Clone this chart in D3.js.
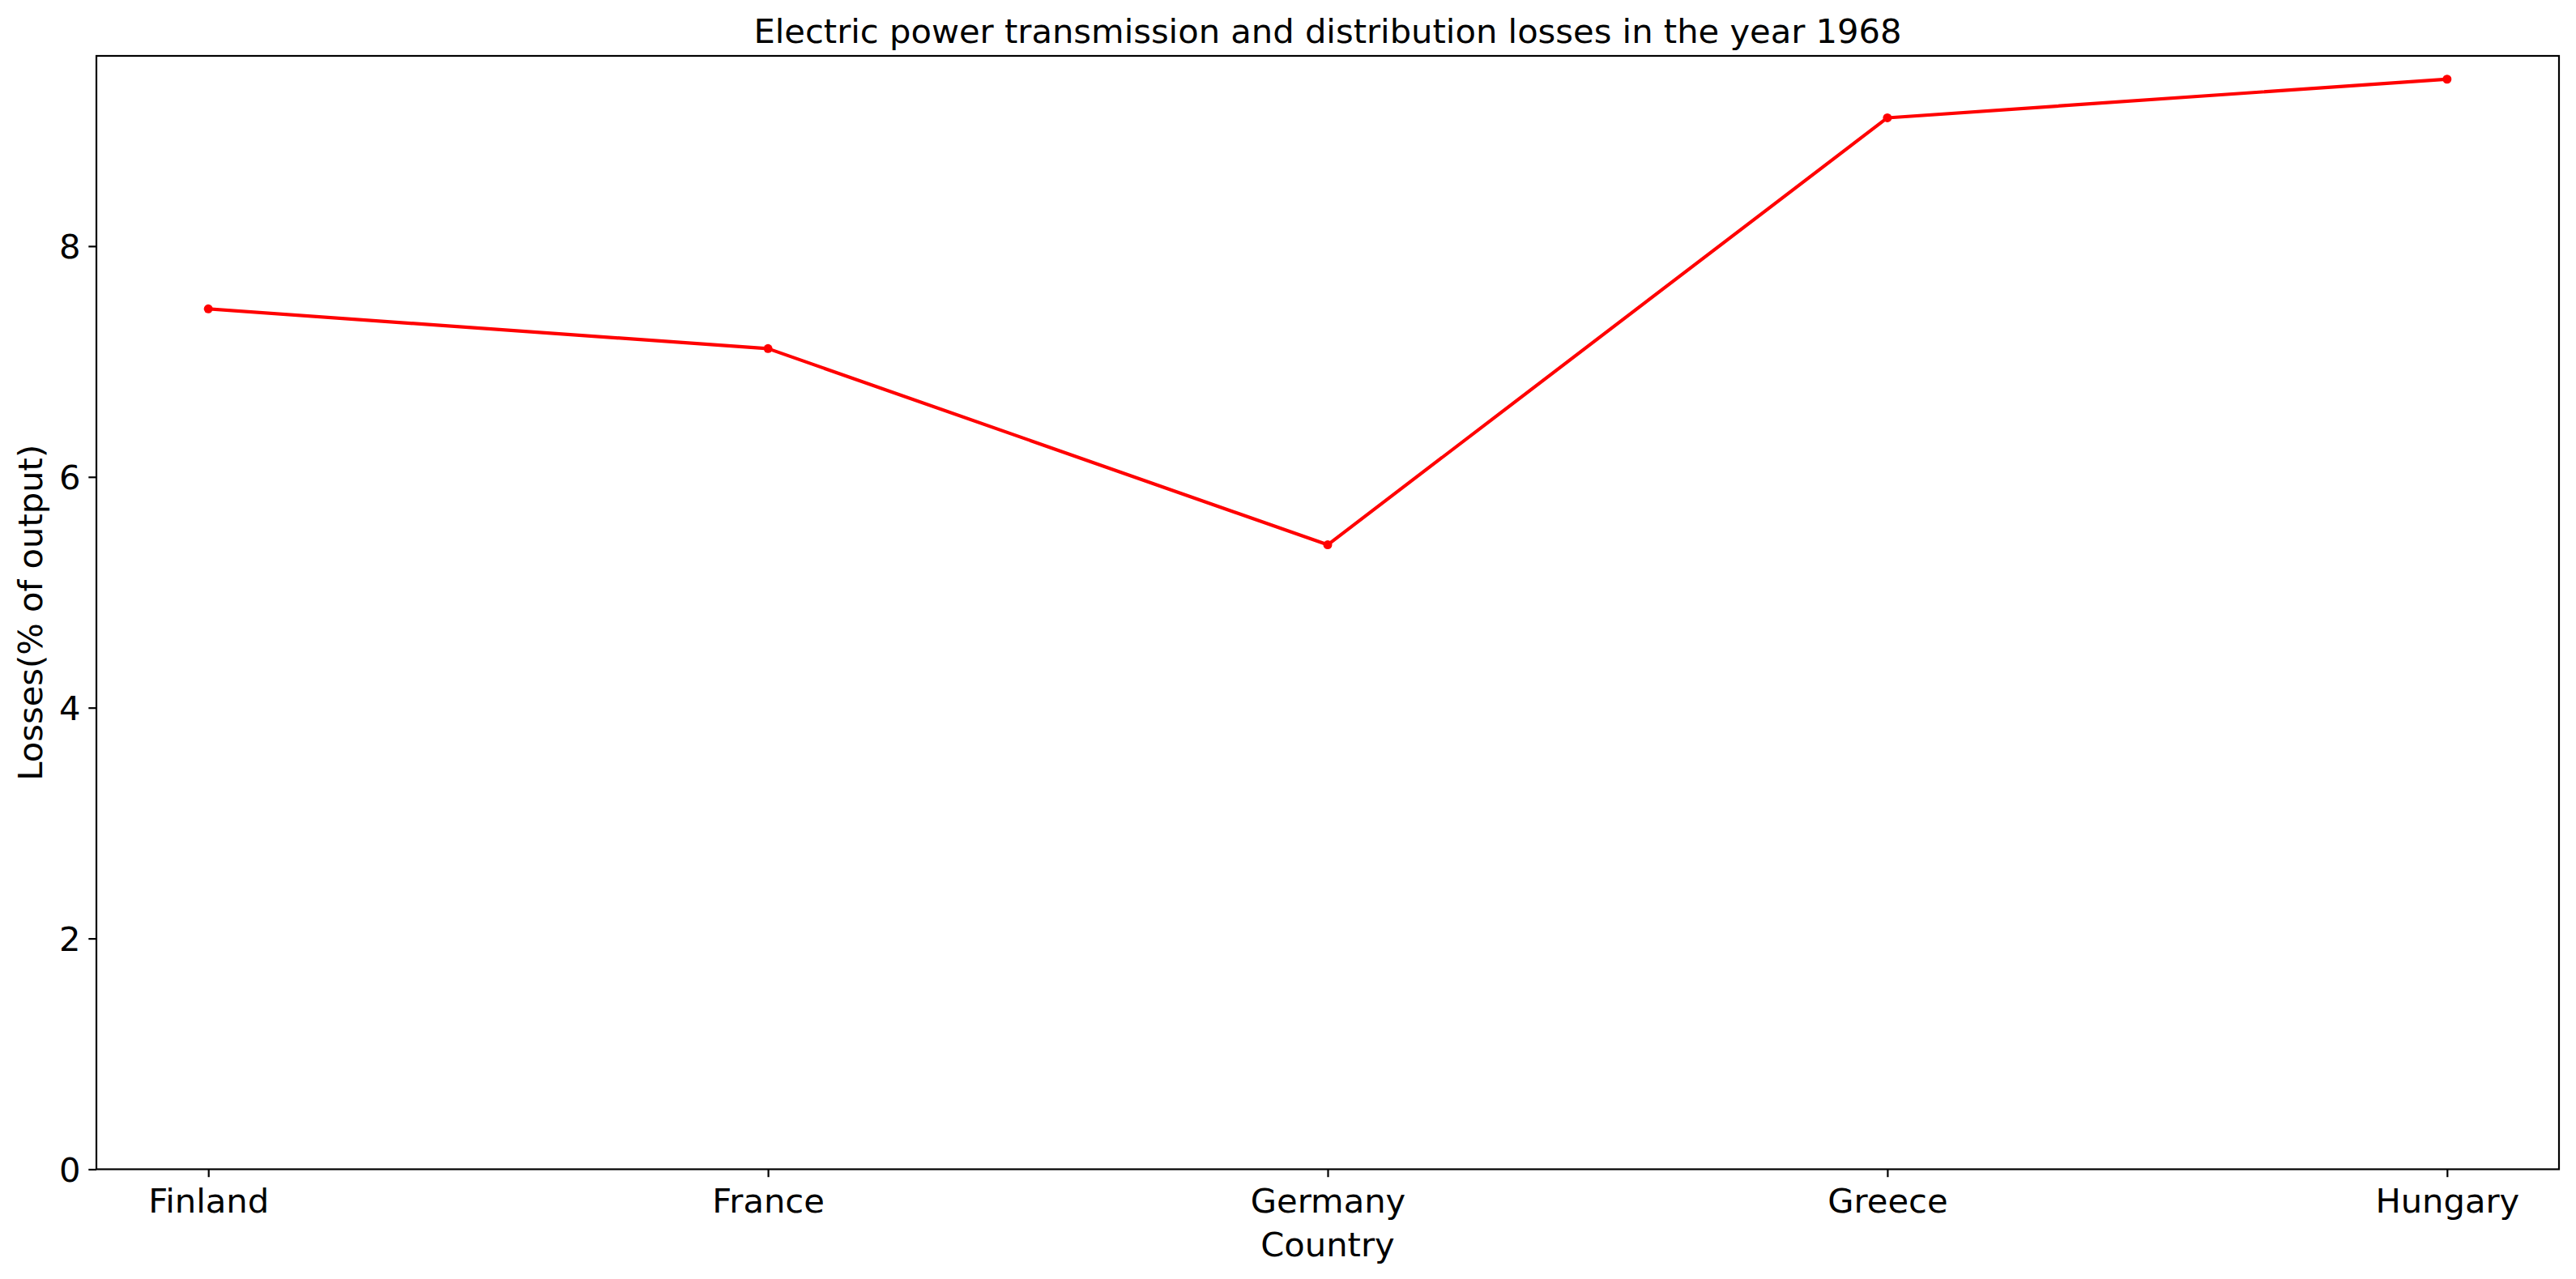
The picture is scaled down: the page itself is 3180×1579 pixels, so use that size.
<!DOCTYPE html>
<html>
<head>
<meta charset="utf-8">
<script src="https://cdn.jsdelivr.net/npm/d3@7"></script>
<style>
  html, body { margin: 0; padding: 0; background: #fff; }
  svg { display: block; }
  text { font-family: "DejaVu Sans", sans-serif; fill: #000; }
</style>
</head>
<body>
<svg id="chart" width="3180" height="1579"></svg>
<script>
const categories = ["Finland", "France", "Germany", "Greece", "Hungary"];
const losses = [7.456, 7.112, 5.412, 9.112, 9.447];
const yTicks = [0, 2, 4, 6, 8];
const titleText = "Electric power transmission and distribution losses in the year 1968";
const xLabelText = "Country";
const yLabelText = "Losses(% of output)";

const W = 3180, H = 1579;
const m = { left: 119, right: 3159, top: 69, bottom: 1443.5 };
const fs = 41.67;
const tickLen = 9.7, tickPad = 9.7;

const svg = d3.select("#chart");

const x = d3.scalePoint().domain(categories).range([m.left, m.right]).padding(0.2);
const yMin = d3.min(losses), yMax = d3.max(losses);
const y = d3.scaleLinear().domain([0, yMax + 0.05 * (yMax - yMin)]).range([m.bottom, m.top]);

// X axis
const xAxis = svg.append("g")
  .attr("transform", `translate(0,${m.bottom})`)
  .call(d3.axisBottom(x).tickSize(tickLen).tickPadding(tickPad).tickSizeOuter(0));
xAxis.select(".domain").remove();
xAxis.selectAll(".tick line").attr("stroke", "#000").attr("stroke-width", 2.2);
xAxis.selectAll(".tick text")
  .attr("font-size", fs)
  .attr("font-family", "DejaVu Sans")
  .attr("dy", null)
  .attr("y", 1497 - m.bottom);

// Y axis
const yAxis = svg.append("g")
  .attr("transform", `translate(${m.left},0)`)
  .call(d3.axisLeft(y).tickValues(yTicks).tickFormat(d3.format("d")).tickSize(tickLen).tickPadding(tickPad).tickSizeOuter(0));
yAxis.select(".domain").remove();
yAxis.selectAll(".tick line").attr("stroke", "#000").attr("stroke-width", 2.2);
yAxis.selectAll(".tick text")
  .attr("font-size", fs)
  .attr("font-family", "DejaVu Sans")
  .attr("dy", "0.36em");

// Line
const line = d3.line().x((d, i) => x(categories[i])).y(d => y(d));
svg.append("path")
  .datum(losses)
  .attr("d", line)
  .attr("fill", "none")
  .attr("stroke", "#ff0000")
  .attr("stroke-width", 4.17)
  .attr("stroke-linejoin", "round")
  .attr("stroke-linecap", "square");

svg.selectAll("circle.pt")
  .data(losses)
  .enter().append("circle")
  .attr("class", "pt")
  .attr("cx", (d, i) => x(categories[i]))
  .attr("cy", d => y(d))
  .attr("r", 5.5)
  .attr("fill", "#ff0000");

// Spines
svg.append("rect")
  .attr("x", m.left).attr("y", m.top)
  .attr("width", m.right - m.left).attr("height", m.bottom - m.top)
  .attr("fill", "none").attr("stroke", "#000").attr("stroke-width", 2.2);

// Title
svg.append("text")
  .attr("x", (m.left + m.right) / 2).attr("y", 53)
  .attr("text-anchor", "middle").attr("font-size", fs)
  .text(titleText);

// X label
svg.append("text")
  .attr("x", (m.left + m.right) / 2).attr("y", 1551)
  .attr("text-anchor", "middle").attr("font-size", fs)
  .text(xLabelText);

// Y label
svg.append("text")
  .attr("transform", `translate(51.5,${(m.top + m.bottom) / 2}) rotate(-90)`)
  .attr("text-anchor", "middle").attr("font-size", fs)
  .text(yLabelText);
</script>
</body>
</html>
